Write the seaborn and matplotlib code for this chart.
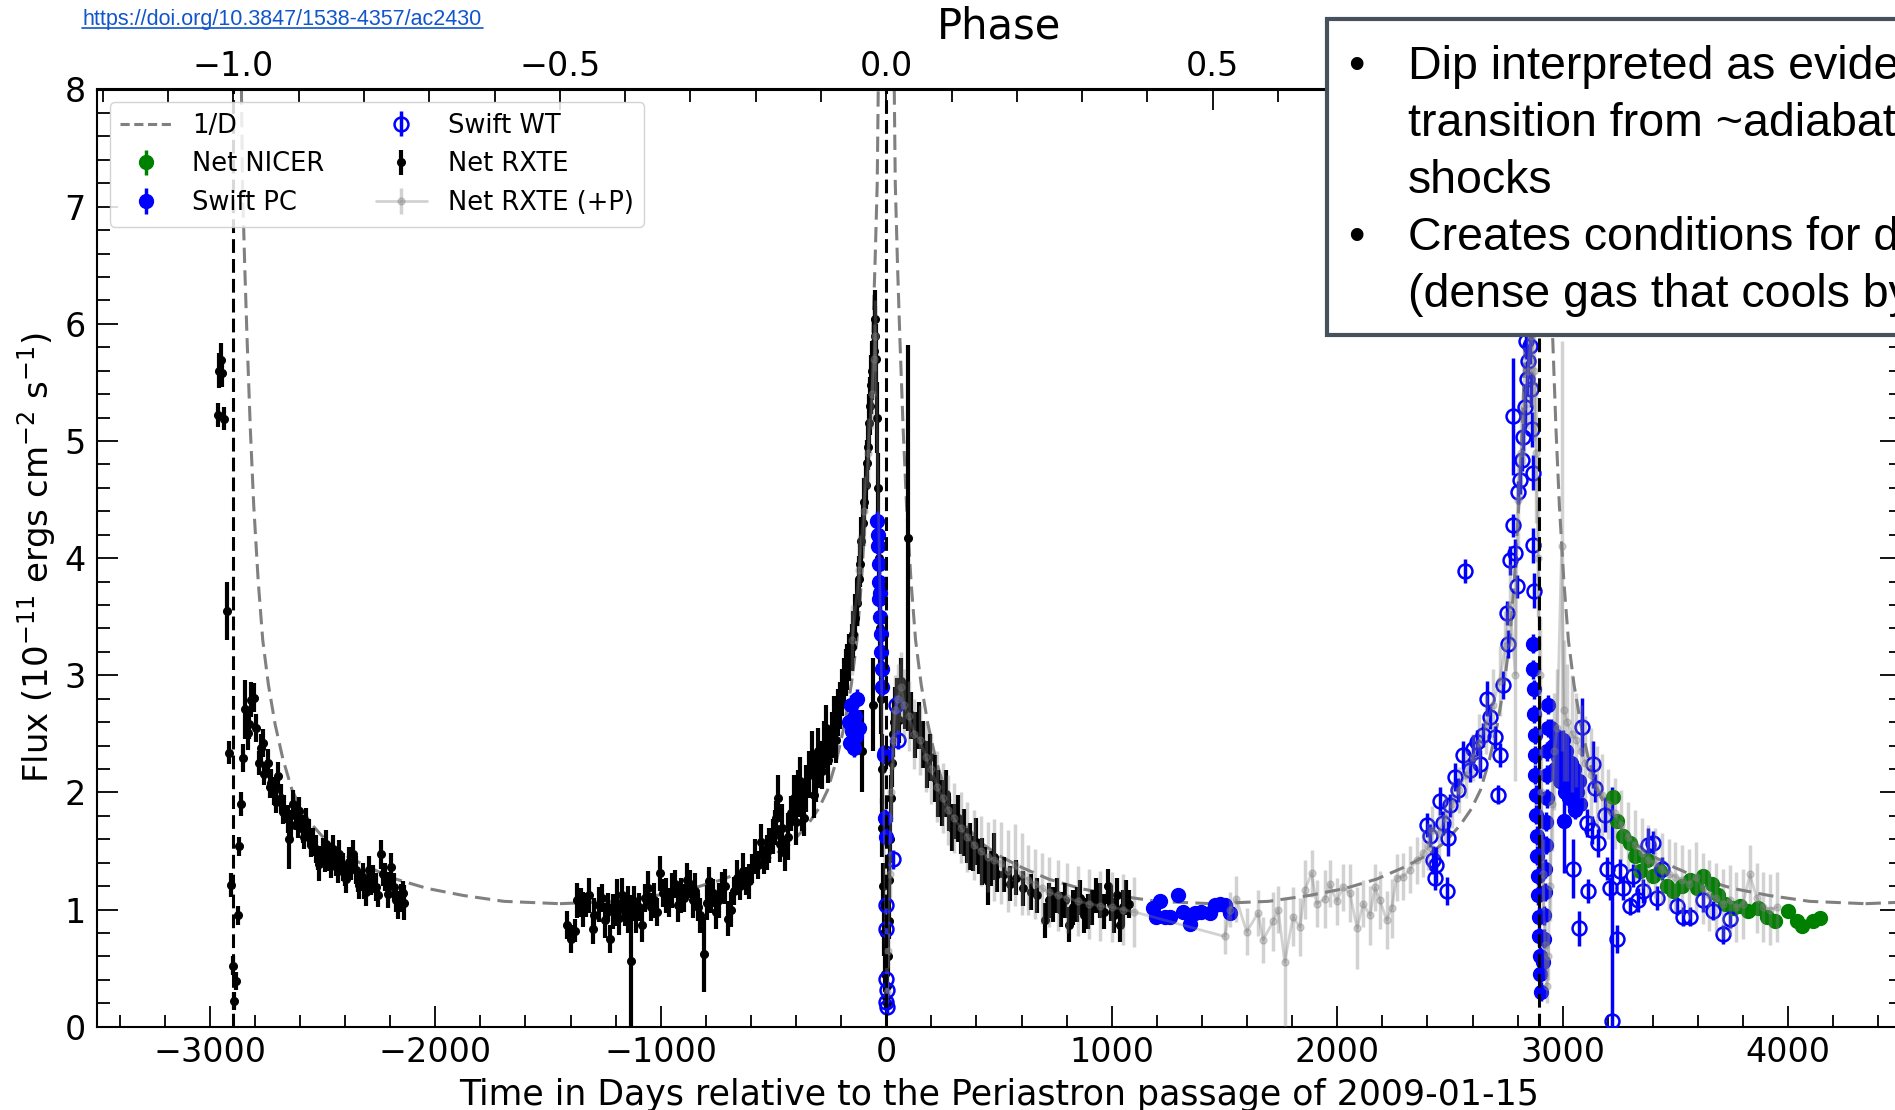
import matplotlib
matplotlib.use("Agg")
import matplotlib.pyplot as plt
from matplotlib.ticker import MultipleLocator
from matplotlib.patches import Rectangle
from matplotlib.lines import Line2D
import pandas as pd
import seaborn as sns

# ---------------- data ----------------
PERIOD = 2895.0
periastron_epochs = [-2895, 0, 2895]
model_epochs = [-2895, 0, 2895, 5790]
model_start = -2895

# 1/D model, one orbit, days from periastron (>=0 half, mirrored)
invd_dt_half = [0, 10, 20, 30, 40, 50, 60, 75, 90, 110, 130, 155, 185, 220,
                260, 300, 350, 420, 500, 600, 720, 860, 1020, 1200, 1447]
invd_val_half = [19.9, 15.0, 11.5, 9.0, 7.2, 6.5, 5.9, 5.1, 4.45, 3.8, 3.3, 2.92,
                 2.58, 2.28, 2.02, 1.86, 1.72, 1.57, 1.46, 1.36, 1.26, 1.18,
                 1.12, 1.07, 1.05]

# Net RXTE (day, flux, err)
rxte_cycle1 = [
    (-2965, 5.22, .10), (-2957, 5.60, .15), (-2950, 5.69, .15), (-2946, 5.58, .12),
    (-2935, 5.19, .10), (-2925, 3.55, .25), (-2913, 2.34, .10), (-2906, 1.21, .10),
    (-2898, 0.52, .08), (-2894, 0.22, .08), (-2883, 0.39, .08), (-2876, 0.95, .08),
    (-2872, 1.54, .08), (-2861, 1.90, .10), (-2854, 2.29, .12), (-2842, 2.71, .25),
    (-2832, 2.51, .15), (-2825, 2.58, .12), (-2817, 2.79, .15), (-2802, 2.81, .12),
    (-2795, 2.55, .12), (-2783, 2.25, .10), (-2772, 2.38, .12), (-2765, 2.42, .12),
    (-2758, 2.16, .10), (-2743, 2.25, .12), (-2735, 2.05, .10), (-2728, 2.08, .12),
    (-2713, 2.01, .12), (-2706, 1.92, .10), (-2699, 2.14, .12), (-2684, 1.95, .12),
    (-2676, 1.83, .10), (-2669, 1.86, .12), (-2654, 1.77, .12), (-2647, 1.60, .25),
    (-2640, 1.72, .12), (-2632, 1.90, .12), (-2617, 1.80, .12), (-2610, 1.71, .10),
    (-2603, 1.84, .12), (-2588, 1.69, .12), (-2580, 1.62, .10), (-2573, 1.75, .12),
    (-2558, 1.65, .12), (-2550, 1.55, .10), (-2543, 1.58, .12), (-2528, 1.52, .12),
    (-2520, 1.44, .10), (-2514, 1.39, .15), (-2499, 1.49, .12), (-2491, 1.42, .10),
    (-2484, 1.56, .12), (-2469, 1.45, .12), (-2462, 1.37, .10), (-2455, 1.52, .12),
    (-2440, 1.41, .12), (-2432, 1.33, .10), (-2425, 1.47, .12), (-2410, 1.36, .12),
    (-2402, 1.30, .10), (-2395, 1.26, .12), (-2381, 1.41, .12), (-2373, 1.35, .10),
    (-2366, 1.47, .12), (-2351, 1.34, .12), (-2343, 1.25, .10), (-2336, 1.21, .12),
    (-2322, 1.28, .12), (-2314, 1.19, .10), (-2307, 1.15, .12), (-2292, 1.34, .12),
    (-2285, 1.22, .10), (-2277, 1.26, .12), (-2262, 1.19, .12), (-2255, 1.12, .10),
    (-2240, 1.47, .12), (-2232, 1.30, .10), (-2225, 1.28, .12), (-2211, 1.13, .12),
    (-2203, 1.22, .10), (-2196, 1.36, .12), (-2181, 1.19, .12), (-2174, 1.08, .10),
    (-2166, 1.04, .12), (-2151, 1.10, .12), (-2144, 1.14, .10), (-2137, 1.06, .15),
]

rxte_cycle2 = [
    (-1415, 0.87, .12), (-1398, 0.75, .12), (-1382, 0.82, .10), (-1371, 1.08, .15),
    (-1353, 1.06, .12), (-1345, 1.00, .15), (-1331, 1.04, .10), (-1319, 1.12, .15),
    (-1301, 0.83, .12), (-1294, 0.95, .15), (-1275, 1.04, .15), (-1262, 1.10, .12),
    (-1249, 0.91, .15), (-1236, 1.02, .12), (-1223, 0.75, .12), (-1210, 0.98, .15),
    (-1196, 1.06, .20), (-1183, 0.93, .15), (-1170, 1.12, .15), (-1157, 0.98, .12),
    (-1144, 1.00, .20), (-1131, 0.56, .56), (-1120, 1.05, .15), (-1109, 0.95, .15),
    (-1096, 1.02, .12), (-1083, 0.87, .15), (-1070, 1.10, .12), (-1056, 1.18, .15),
    (-1043, 1.02, .12), (-1030, 1.08, .15), (-1016, 0.98, .12), (-1003, 1.31, .15),
    (-990, 1.14, .12), (-977, 1.12, .15), (-964, 1.06, .12), (-951, 1.16, .15),
    (-938, 1.22, .12), (-925, 1.04, .15), (-912, 1.12, .15), (-898, 1.10, .12),
    (-885, 1.25, .15), (-872, 1.22, .12), (-859, 1.08, .15), (-846, 1.16, .15),
    (-835, 1.02, .12), (-828, 0.95, .15), (-809, 0.62, .32), (-797, 1.06, .15),
    (-784, 1.24, .12), (-775, 1.12, .15), (-767, 1.14, .12), (-754, 0.98, .15),
    (-741, 1.08, .15), (-728, 1.20, .12), (-714, 1.20, .15), (-701, 0.92, .15),
    (-688, 1.00, .15), (-675, 1.16, .12), (-662, 1.27, .15), (-649, 1.20, .12),
    (-636, 1.33, .15), (-622, 1.24, .12), (-609, 1.24, .15), (-596, 1.35, .12),
    (-583, 1.45, .15), (-570, 1.38, .12), (-557, 1.58, .15), (-544, 1.42, .12),
    (-531, 1.49, .15), (-518, 1.55, .15), (-504, 1.62, .15), (-495, 1.70, .15),
    (-487, 1.78, .15), (-478, 1.95, .20), (-470, 1.56, .15), (-461, 1.70, .20),
    (-447, 1.48, .15), (-434, 1.62, .20), (-421, 1.82, .15), (-408, 1.95, .20),
    (-399, 1.75, .20), (-390, 1.99, .20), (-381, 2.10, .20), (-373, 1.87, .20),
    (-364, 1.78, .15), (-355, 2.03, .20), (-342, 2.15, .20), (-329, 2.32, .20),
    (-320, 1.98, .20), (-311, 2.12, .20), (-302, 2.35, .20), (-294, 2.24, .20),
    (-285, 2.18, .15), (-277, 2.41, .20), (-268, 2.55, .20), (-259, 2.28, .20),
    (-250, 2.38, .15), (-242, 2.49, .20), (-233, 2.62, .20), (-224, 2.45, .20),
    (-215, 2.68, .20), (-207, 2.74, .20), (-198, 2.85, .20), (-189, 2.95, .20),
    (-180, 3.02, .20), (-172, 3.07, .20), (-163, 3.15, .20), (-154, 3.24, .20),
    (-146, 3.35, .20), (-137, 3.49, .20), (-130, 3.62, .20), (-122, 3.82, .20),
    (-116, 3.95, .20), (-110, 4.15, .20), (-107, 2.35, .35), (-104, 4.30, .20),
    (-98, 4.48, .20), (-92, 4.62, .20), (-87, 4.81, .20), (-81, 4.95, .20),
    (-75, 5.15, .25), (-70, 5.30, .25), (-67, 5.48, .25), (-62, 5.60, .25),
    (-58, 2.75, .40), (-55, 5.77, .25), (-52, 5.90, .25), (-49, 6.04, .25),
    (-45, 5.70, .30), (-41, 5.20, .30), (-37, 4.60, .30), (-33, 4.00, .30),
    (-29, 3.40, .30), (-25, 2.80, .30), (-21, 2.20, .30), (-17, 1.70, .25),
    (-13, 1.20, .20), (-9, 0.80, .20), (-5, 0.45, .15), (-2, 0.25, .10),
    (2, 0.20, .10), (5, 0.35, .10), (8, 0.60, .15), (11, 0.90, .15),
    (14, 1.25, .20), (17, 1.60, .20), (20, 1.95, .20), (24, 2.25, .20),
    (28, 2.50, .20), (33, 2.60, .20), (40, 2.70, .20), (47, 2.78, .20),
    (55, 2.62, .20), (65, 2.95, .20), (82, 2.74, .20), (95, 4.17, 1.65),
    (109, 2.66, .20), (126, 2.49, .20), (144, 2.57, .20), (161, 2.41, .20),
    (179, 2.24, .20), (196, 2.30, .20), (214, 2.12, .20), (231, 1.99, .20),
    (249, 1.91, .20), (266, 1.99, .20), (280, 1.82, .15), (292, 1.70, .20),
    (305, 1.75, .15), (319, 1.78, .20), (332, 1.62, .15), (345, 1.66, .20),
    (358, 1.55, .15), (371, 1.54, .20), (385, 1.48, .15), (398, 1.58, .20),
    (411, 1.45, .15), (424, 1.41, .20), (437, 1.38, .15), (450, 1.24, .20),
    (463, 1.35, .15), (477, 1.45, .20), (490, 1.30, .15), (520, 1.30, .15),
    (548, 1.22, .15), (575, 1.27, .15), (605, 1.18, .15), (640, 1.15, .15),
    (670, 1.12, .15), (704, 0.91, .15), (720, 1.08, .15), (739, 1.04, .15),
    (756, 1.12, .15), (774, 1.00, .15), (791, 1.08, .15), (809, 0.87, .15),
    (826, 1.02, .15), (844, 1.04, .15), (861, 1.10, .15), (879, 0.95, .15),
    (896, 0.98, .15), (914, 1.02, .15), (931, 1.12, .15), (949, 1.08, .15),
    (967, 0.98, .15), (985, 1.20, .15), (998, 1.05, .15), (1011, 0.95, .15),
    (1024, 1.12, .15), (1037, 0.87, .15), (1050, 1.02, .15), (1063, 1.10, .15),
    (1076, 1.05, .12),
]

# Net RXTE (+P) (day, flux, err)
rxte_p = [
    (-150, 3.30, .30), (-120, 3.90, .30), (-100, 4.40, .30), (-80, 4.90, .30),
    (-65, 5.40, .30), (-55, 5.70, .30), (-48, 5.90, .30),
    (3, 0.30, .10), (9, 0.65, .15), (15, 1.30, .20), (22, 2.00, .25), (30, 2.45, .25),
    (40, 2.70, .30), (52, 2.80, .30), (65, 2.90, .30), (80, 2.75, .30), (100, 2.65, .30),
    (125, 2.50, .30), (150, 2.45, .30), (175, 2.30, .30), (200, 2.20, .30),
    (225, 2.05, .30), (250, 1.95, .30), (275, 1.85, .30), (300, 1.78, .30),
    (330, 1.70, .30), (360, 1.62, .30), (390, 1.55, .30), (420, 1.50, .30),
    (450, 1.45, .30), (480, 1.42, .35), (510, 1.40, .35), (540, 1.33, .35),
    (570, 1.38, .35), (600, 1.30, .35), (630, 1.25, .30), (660, 1.22, .30),
    (690, 1.18, .30), (720, 1.15, .30), (760, 1.12, .30), (800, 1.10, .30),
    (850, 1.07, .30), (900, 1.05, .30), (950, 1.03, .30), (1000, 1.02, .30),
    (1050, 1.00, .30), (1100, 0.98, .30),
    (1501, 0.77, .15), (1523, 1.00, .15), (1553, 1.09, .20), (1598, 0.81, .20),
    (1649, 0.97, .20), (1671, 0.74, .20), (1716, 0.90, .25), (1738, 1.00, .20),
    (1767, 0.55, .55), (1804, 0.94, .25), (1834, 0.85, .25), (1857, 1.17, .25),
    (1886, 1.31, .20), (1908, 1.05, .20), (1945, 1.09, .25), (1967, 1.22, .20),
    (1997, 1.07, .20), (2026, 1.19, .20), (2056, 1.14, .25), (2088, 0.84, .35),
    (2115, 1.05, .20), (2145, 0.95, .25), (2167, 1.19, .20), (2189, 1.08, .25),
    (2219, 0.91, .25), (2241, 1.01, .25), (2263, 1.27, .20), (2292, 1.28, .20),
    (2322, 1.34, .20), (2352, 1.42, .20), (2381, 1.48, .20), (2404, 1.54, .20),
    (2418, 1.68, .20), (2450, 1.65, .20), (2480, 1.78, .20), (2510, 1.90, .20),
    (2540, 2.02, .20), (2570, 2.15, .20), (2600, 2.30, .20), (2630, 2.42, .25),
    (2660, 2.58, .25), (2690, 2.75, .30), (2720, 2.95, .30), (2745, 3.25, .30),
    (2765, 3.60, .35), (2790, 3.00, .90), (2800, 4.50, .40), (2815, 4.90, .40),
    (2830, 5.30, .50), (2845, 5.60, .50), (2860, 5.90, .60), (2872, 5.60, .60),
    (2882, 4.90, .60), (2890, 4.00, .50), (2898, 3.00, .50), (2905, 2.00, .40),
    (2912, 1.30, .30), (2920, 0.70, .20), (2928, 0.35, .15), (2936, 0.60, .20),
    (2944, 1.20, .30), (2952, 1.90, .40), (2962, 2.35, .50), (2975, 2.55, .50),
    (2995, 4.10, 1.75), (3005, 2.70, .60), (3020, 2.60, .50), (3040, 2.50, .50),
    (3060, 2.45, .40), (3080, 2.35, .40), (3100, 2.25, .40), (3125, 2.15, .40),
    (3150, 2.05, .35), (3175, 1.98, .35), (3200, 1.90, .30), (3230, 1.82, .30),
    (3260, 1.72, .30), (3290, 1.62, .30), (3320, 1.55, .30), (3350, 1.48, .30),
    (3380, 1.42, .30), (3410, 1.40, .30), (3440, 1.35, .30), (3470, 1.30, .30),
    (3500, 1.28, .30), (3530, 1.25, .30), (3560, 1.22, .30), (3590, 1.28, .30),
    (3620, 1.18, .30), (3650, 1.12, .30), (3680, 1.10, .30), (3710, 1.05, .30),
    (3740, 1.08, .30), (3770, 1.02, .30), (3800, 1.05, .30), (3830, 1.30, .25),
    (3860, 1.10, .30), (3890, 1.02, .30), (3920, 1.00, .30), (3950, 1.02, .30),
]

# Swift PC (day, flux, err)
swift_pc = [
    (-165, 2.60, .08), (-160, 2.42, .08), (-155, 2.75, .08), (-150, 2.52, .08),
    (-145, 2.38, .08), (-140, 2.65, .08), (-135, 2.48, .08), (-128, 2.80, .08),
    (-122, 2.55, .08),
    (-40, 4.32, .08), (-37, 4.10, .08), (-35, 4.20, .08), (-33, 3.95, .08),
    (-32, 3.80, .08), (-30, 3.65, .08), (-28, 3.70, .08), (-27, 3.50, .08),
    (-25, 3.35, .08), (-22, 3.20, .08), (-20, 3.05, .08), (-18, 2.90, .08),
    (-8, 2.32, .08), (-5, 1.78, .08), (-3, 1.62, .08),
    (1183, 1.01, .04), (1198, 0.94, .04), (1213, 1.07, .04), (1235, 0.94, .04),
    (1257, 0.94, .04), (1294, 1.12, .04), (1316, 0.98, .04), (1346, 0.88, .04),
    (1368, 0.97, .04), (1398, 0.98, .04), (1435, 0.97, .04), (1457, 1.04, .04),
    (1479, 1.05, .04), (1501, 1.04, .04), (1523, 0.97, .04),
    (2866, 3.27, .08), (2869, 3.05, .08), (2871, 2.88, .08), (2873, 2.67, .08),
    (2875, 2.49, .08), (2877, 2.32, .08), (2879, 2.15, .08), (2881, 1.98, .08),
    (2883, 1.81, .08), (2885, 1.63, .08), (2887, 1.46, .08), (2889, 1.29, .08),
    (2891, 1.12, .08), (2893, 0.94, .08), (2895, 0.77, .08), (2897, 0.60, .08),
    (2900, 0.45, .08), (2905, 0.30, .08), (2912, 0.55, .08), (2915, 0.75, .08),
    (2918, 0.95, .08), (2920, 1.15, .08), (2922, 1.35, .08), (2924, 1.55, .08),
    (2926, 1.75, .08), (2928, 1.95, .08), (2930, 2.15, .08), (2932, 2.35, .08),
    (2934, 2.55, .08), (2936, 2.75, .08),
    (2950, 2.55, .08), (2958, 2.40, .08), (2965, 2.20, .08), (2972, 2.48, .08),
    (2980, 2.30, .08), (2988, 2.10, .08), (2995, 2.25, .08), (3000, 2.45, .08),
    (3005, 1.76, .45), (3010, 2.00, .08), (3015, 2.35, .08), (3020, 2.15, .08),
    (3028, 1.95, .08), (3035, 2.25, .08), (3040, 2.05, .08), (3048, 2.20, .08),
    (3055, 1.85, .08), (3062, 2.00, .08), (3070, 2.10, .08), (3078, 1.90, .08),
]

# Swift WT (day, flux, err)
swift_wt = [
    (-4, 2.34, .06), (-1, 1.04, .06), (0, 0.83, .06), (1, 0.41, .05),
    (2, 0.31, .05), (1, 0.21, .05), (2, 0.17, .05), (28, 1.43, .08),
    (45, 2.75, .08), (50, 2.45, .08),
    (2396, 1.72, .10), (2411, 1.63, .10), (2426, 1.42, .12), (2433, 1.27, .10),
    (2440, 1.38, .15), (2455, 1.93, .12), (2470, 1.74, .10), (2485, 1.16, .12),
    (2492, 1.61, .15), (2500, 1.89, .10), (2522, 2.13, .12), (2537, 2.02, .10),
    (2559, 2.32, .12), (2566, 3.89, .10), (2588, 2.19, .10), (2603, 2.37, .12),
    (2618, 2.43, .10), (2633, 2.24, .12), (2647, 2.49, .10), (2662, 2.80, .15),
    (2677, 2.64, .10), (2699, 2.47, .10), (2714, 1.98, .08), (2721, 2.32, .10),
    (2736, 2.92, .12), (2751, 3.53, .10), (2758, 3.27, .12), (2766, 3.98, .12),
    (2778, 5.21, .50), (2781, 4.28, .10), (2788, 4.04, .12), (2795, 3.76, .10),
    (2803, 4.56, .10), (2810, 4.67, .12), (2818, 4.84, .10), (2825, 5.03, .12),
    (2832, 5.29, .15), (2835, 5.85, .15), (2840, 5.53, .15), (2847, 5.68, .15),
    (2854, 5.81, .15), (2857, 5.44, .15), (2862, 5.10, .15), (2866, 4.73, .15),
    (2869, 4.11, .15), (2871, 3.72, .15),
    (3047, 1.35, .25), (3073, 0.84, .15), (3084, 2.56, .25), (3106, 1.74, .12),
    (3113, 1.16, .10), (3128, 1.68, .12), (3135, 2.24, .20), (3143, 2.04, .12),
    (3158, 1.57, .12), (3187, 1.81, .15), (3195, 1.35, .10), (3209, 1.18, .10),
    (3219, 0.05, 2.00), (3239, 0.75, .12), (3254, 1.33, .10), (3269, 1.18, .10),
    (3298, 1.03, .08), (3313, 1.29, .10), (3335, 1.08, .10), (3357, 1.16, .10),
    (3380, 1.55, .15), (3402, 1.57, .10), (3416, 1.10, .10), (3439, 1.35, .10),
    (3505, 1.03, .08), (3535, 0.94, .08), (3564, 0.94, .08), (3623, 1.08, .10),
    (3668, 0.99, .08), (3712, 0.79, .08), (3742, 0.92, .08),
]

# Net NICER (day, flux, err)
nicer = [
    (3224, 1.96, .04), (3239, 1.76, .04), (3269, 1.63, .04), (3298, 1.57, .04),
    (3320, 1.46, .04), (3343, 1.33, .04), (3372, 1.42, .04), (3402, 1.29, .04),
    (3431, 1.33, .04), (3461, 1.20, .04), (3490, 1.16, .04), (3527, 1.20, .04),
    (3564, 1.25, .04), (3594, 1.18, .04), (3623, 1.29, .04), (3660, 1.22, .04),
    (3690, 1.12, .04), (3720, 1.05, .04), (3757, 1.01, .04), (3786, 1.03, .04),
    (3823, 0.99, .04), (3868, 1.01, .04), (3904, 0.94, .04), (3941, 0.90, .04),
    (4001, 0.99, .04), (4038, 0.90, .04), (4061, 0.86, .04), (4111, 0.90, .04),
    (4141, 0.93, .04),
]

x_ticks_major, x_ticks_minor = 1000, 200
phase_major, phase_minor = 0.5, 0.1

link_text = "https://doi.org/10.3847/1538-4357/ac2430"
box_lines = ["Dip interpreted as evidence of",
             "transition from ~adiabatic to radiative",
             "shocks",
             "Creates conditions for dust",
             "(dense gas that cools by radiation)"]
bullet_rows = [0, 3]

# ---------------- style ----------------
sns.set_theme(style="ticks")
plt.rcParams["font.family"] = ["DejaVu Sans"]
plt.rcParams["mathtext.fontset"] = "dejavusans"
plt.rcParams["axes.edgecolor"] = "black"
plt.rcParams["axes.linewidth"] = 1.5
plt.rcParams["xtick.color"] = "black"
plt.rcParams["ytick.color"] = "black"
plt.rcParams["text.color"] = "black"
plt.rcParams["axes.labelcolor"] = "black"

W, H = 1895, 1110
fig = plt.figure(figsize=(W / 100, H / 100), dpi=100)
fig.patch.set_facecolor("white")
ax_l, ax_r, ax_t, ax_b = 97, 1901, 89.5, 1026.7
ax = fig.add_axes([ax_l / W, 1 - ax_b / H, (ax_r - ax_l) / W, (ax_b - ax_t) / H])
ax.set_facecolor("white")

# 1/D model curve
full_dt = [-d for d in reversed(invd_dt_half[1:])] + invd_dt_half
full_val = list(reversed(invd_val_half[1:])) + invd_val_half
rows = []
for k, ep in enumerate(model_epochs):
    for d, v in zip(full_dt, full_val):
        if ep + d >= model_start:
            rows.append({"day": ep + d, "invd": v, "cycle": k})
model_df = pd.DataFrame(rows)
dash_style = (0, (5, 2.4))
sns.lineplot(data=model_df, x="day", y="invd", units="cycle", estimator=None,
             color="gray", linewidth=2.2, linestyle=dash_style, ax=ax,
             legend=False, zorder=1)


def unpack(series):
    xs, ys, es = zip(*series)
    return list(xs), list(ys), list(es)


x, y, e = unpack(nicer)
h_nicer = ax.errorbar(x, y, yerr=e, fmt="o", color="green", ms=10,
                      elinewidth=2.5, capsize=0, zorder=4, label="Net NICER")
x, y, e = unpack(swift_pc)
h_pc = ax.errorbar(x, y, yerr=e, fmt="o", color="blue", ms=10,
                   elinewidth=2.5, capsize=0, zorder=4, label="Swift PC")
x, y, e = unpack(swift_wt)
h_wt = ax.errorbar(x, y, yerr=e, fmt="o", color="blue", mfc="none", mec="blue",
                   mew=1.8, ms=10, elinewidth=2.5, capsize=0, zorder=4,
                   label="Swift WT")
x, y, e = unpack(rxte_cycle1 + rxte_cycle2)
h_rxte = ax.errorbar(x, y, yerr=e, fmt="o", color="black", ms=5.5,
                     elinewidth=3.0, capsize=0, zorder=3, label="Net RXTE")
x, y, e = unpack(rxte_p)
h_p = ax.errorbar(x, y, yerr=e, fmt="-o", color="gray", ms=5, lw=2,
                  elinewidth=2.5, capsize=0, alpha=0.35, zorder=6,
                  label="Net RXTE (+P)")

for ep in periastron_epochs:
    ax.axvline(ep, color="black", linestyle=(0, (4.5, 2)), linewidth=2.2, zorder=7)

ax.set_xlim(-3500, 4500)
ax.set_ylim(0, 8)
ax.xaxis.set_major_locator(MultipleLocator(x_ticks_major))
ax.xaxis.set_minor_locator(MultipleLocator(x_ticks_minor))
ax.yaxis.set_major_locator(MultipleLocator(1))
ax.yaxis.set_minor_locator(MultipleLocator(0.2))
ax.tick_params(which="both", direction="in", top=False, right=True,
               bottom=True, left=True, width=1.3)
ax.tick_params(which="major", length=15, labelsize=24)
ax.tick_params(which="minor", length=9)
ax.tick_params(axis="x", which="major", pad=7)
ax.tick_params(axis="y", which="major", pad=8)
for s in ax.spines.values():
    s.set_visible(True)
    s.set_linewidth(1.5)
    s.set_color("black")

ax.set_xlabel("Time in Days relative to the Periastron passage of 2009-01-15",
              fontsize=25, labelpad=6)
ax.set_ylabel(r"Flux (10$^{-11}$ ergs cm$^{-2}$ s$^{-1}$)", fontsize=24.5,
              labelpad=5)

secax = ax.secondary_xaxis("top", functions=(lambda d: d / PERIOD,
                                             lambda p: p * PERIOD))
secax.xaxis.set_major_locator(MultipleLocator(phase_major))
secax.xaxis.set_minor_locator(MultipleLocator(phase_minor))
secax.tick_params(which="both", direction="in", width=1.3)
secax.tick_params(which="major", length=15, labelsize=24, pad=5)
secax.tick_params(which="minor", length=9)
secax.set_xlabel("Phase", fontsize=30, labelpad=8)

h_model = Line2D([], [], color="gray", linestyle=(0, (3, 1.5)), linewidth=2.2)
leg = ax.legend([h_model, h_nicer, h_pc, h_wt, h_rxte, h_p],
                ["1/D", "Net NICER", "Swift PC", "Swift WT", "Net RXTE",
                 "Net RXTE (+P)"],
                ncol=2, loc="upper left", fontsize=18.5, frameon=True,
                labelspacing=0.5, borderaxespad=0.5, handlelength=2.0,
                columnspacing=2.0, handletextpad=0.8, fancybox=True,
                framealpha=0.85, edgecolor="0.8")
leg.set_zorder(10)

# ---------------- slide overlays ----------------
fig.text(82 / W, 1 - 24.5 / H, link_text, color="#1155cc", fontsize=15.5,
         family=["Liberation Sans", "DejaVu Sans"], ha="left", va="baseline")
fig.add_artist(Line2D([82 / W, 483 / W], [1 - 27.5 / H, 1 - 27.5 / H],
                      transform=fig.transFigure, color="#1155cc", linewidth=1.2))

box = Rectangle((1327 / W, 1 - 335 / H), 700 / W, (335 - 19) / H,
                transform=fig.transFigure, facecolor="white",
                edgecolor="#46515b", linewidth=3, zorder=20)
fig.add_artist(box)
base0, step = 79, 57.0
for i, line in enumerate(box_lines):
    yb = 1 - (base0 + i * step) / H
    t = fig.text(1408 / W, yb, line, fontsize=33.5, ha="left", va="baseline",
                 family=["Liberation Sans", "DejaVu Sans"], color="black")
    t.set_zorder(21)
    if i in bullet_rows:
        b = fig.text(1356 / W, yb, "\u2022", fontsize=33.5, ha="center",
                     va="baseline", family=["Liberation Sans", "DejaVu Sans"],
                     color="black")
        b.set_zorder(21)

fig.savefig("out.png", dpi=100, facecolor="white")
